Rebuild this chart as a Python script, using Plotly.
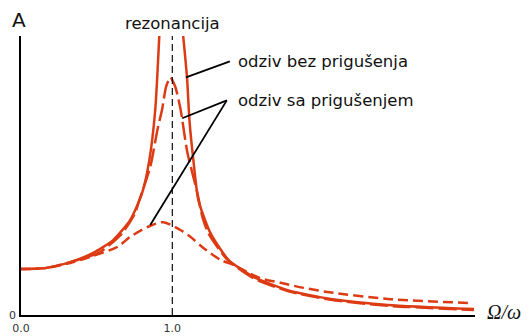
import plotly.graph_objects as go

# ratio Omega/omega and amplitudes
und_left_x = [0.0, 0.159, 0.325, 0.477, 0.609, 0.722, 0.80, 0.848, 0.887, 0.914]
und_left_y = [1.0, 1.02, 1.15, 1.35, 1.63, 2.07, 2.65, 3.37, 4.46, 6.09]
und_right_x = [1.071, 1.097, 1.113, 1.139, 1.172, 1.252, 1.371, 1.536, 1.762, 2.046, 2.424, 2.993]
und_right_y = [6.09, 5.17, 4.24, 3.37, 2.50, 1.78, 1.20, 0.83, 0.54, 0.35, 0.22, 0.13]

low_x = [0.0, 0.159, 0.325, 0.523, 0.669, 0.755, 0.775, 0.854, 0.901, 0.934, 0.958, 0.987,
         1.02, 1.053, 1.066, 1.099, 1.166, 1.199, 1.238, 1.364, 1.536, 1.762, 2.046, 2.424, 2.993]
low_y = [1.0, 1.02, 1.15, 1.37, 1.78, 2.22, 2.43, 3.22, 4.02, 4.50, 4.96, 5.17,
         4.96, 4.50, 4.24, 3.54, 2.65, 2.13, 1.78, 1.20, 0.80, 0.52, 0.33, 0.20, 0.11]

high_x = [0.0, 0.159, 0.325, 0.47, 0.636, 0.722, 0.834, 0.94, 1.053, 1.119, 1.205,
          1.318, 1.404, 1.497, 1.583, 1.715, 1.868, 2.026, 2.424, 2.974]
high_y = [1.0, 1.02, 1.13, 1.28, 1.48, 1.70, 1.91, 2.02, 1.85, 1.70, 1.46,
          1.20, 1.09, 0.93, 0.80, 0.70, 0.59, 0.50, 0.35, 0.26]

x_ticks = [0, 1]
x_tick_text = ["0.0", "1.0"]
y_ticks = [0]
y_tick_text = ["0"]

RED = "#dc3b14"
X_MAX = 3.0
Y_MAX = 6.07

fig = go.Figure()
fig.add_trace(go.Scatter(x=high_x, y=high_y, mode="lines",
                         line=dict(color=RED, width=2.5, dash="10px,5px", shape="spline", smoothing=0.8)))
fig.add_trace(go.Scatter(x=low_x, y=low_y, mode="lines",
                         line=dict(color=RED, width=2.5, dash="18px,5px", shape="spline", smoothing=0.6)))
fig.add_trace(go.Scatter(x=und_left_x, y=und_left_y, mode="lines",
                         line=dict(color=RED, width=2.5, shape="spline", smoothing=0.6)))
fig.add_trace(go.Scatter(x=und_right_x, y=und_right_y, mode="lines",
                         line=dict(color=RED, width=2.5, shape="spline", smoothing=0.6)))

# resonance line
fig.add_shape(type="line", x0=1, x1=1, y0=0, y1=Y_MAX, xref="x", yref="y",
              line=dict(color="#111", width=1.2, dash="7px,4px"))
# pointer lines
fig.add_shape(type="line", x0=1.38, y0=5.52, x1=1.09, y1=5.17, xref="x", yref="y",
              line=dict(color="black", width=1.8))
fig.add_shape(type="line", x0=1.36, y0=4.67, x1=1.065, y1=4.28, xref="x", yref="y",
              line=dict(color="black", width=1.8))
fig.add_shape(type="line", x0=1.36, y0=4.67, x1=0.854, y1=1.96, xref="x", yref="y",
              line=dict(color="black", width=1.8))

FONT = "DejaVu Sans"
fig.add_annotation(x=1, y=1.0, xref="x", yref="paper", yanchor="bottom", yshift=1,
                   text="rezonancija", showarrow=False, font=dict(family=FONT, size=16.5, color="#111"))
fig.add_annotation(x=1.42, y=5.52, xref="x", yref="y", xanchor="left",
                   text="odziv bez prigušenja", showarrow=False, font=dict(family=FONT, size=16.5, color="#111"))
fig.add_annotation(x=1.42, y=4.67, xref="x", yref="y", xanchor="left",
                   text="odziv sa prigušenjem", showarrow=False, font=dict(family=FONT, size=16.5, color="#111"))
fig.add_annotation(x=0, y=1.0, xref="x", yref="paper", xanchor="center", yanchor="bottom", xshift=-2, yshift=2,
                   text="A", showarrow=False, font=dict(family=FONT, size=20, color="#111"))
fig.add_annotation(x=1.0, y=0, xref="paper", yref="y", xanchor="left", xshift=10, yshift=3,
                   text="<i>Ω/ω</i>", showarrow=False, font=dict(family="Liberation Serif", size=20, color="#111"))

fig.update_layout(
    width=530, height=336,
    margin=dict(l=21, r=55, t=36, b=21, autoexpand=False),
    paper_bgcolor="white", plot_bgcolor="white",
    showlegend=False,
    xaxis=dict(range=[0, X_MAX], showgrid=False, zeroline=False, showline=True, linecolor="black", linewidth=1.5,
               tickvals=x_ticks, ticktext=x_tick_text, ticks="", ticklabelstandoff=2, automargin=False,
               tickfont=dict(family=FONT, size=11, color="#333")),
    yaxis=dict(range=[0, Y_MAX], showgrid=False, zeroline=False, showline=True, linecolor="black", linewidth=1.5,
               tickvals=y_ticks, ticktext=y_tick_text, ticks="", ticklabelstandoff=1, automargin=False,
               tickfont=dict(family=FONT, size=11, color="#333")),
)
fig.write_html("out.html")
